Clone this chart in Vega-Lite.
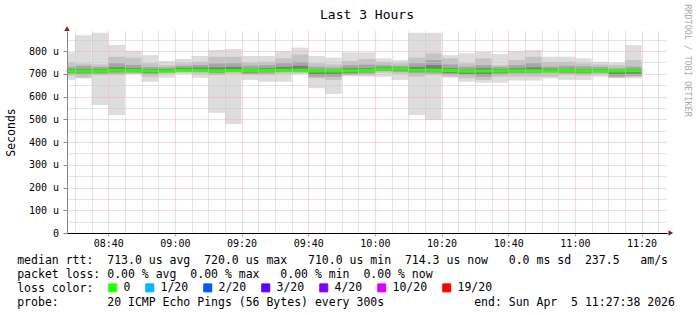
{
  "$schema": "https://vega.github.io/schema/vega-lite/v6.json",
  "width": 600,
  "height": 202,
  "autosize": {"type": "none"},
  "padding": {"left": 67, "top": 31, "right": 30, "bottom": 82},
  "background": "white",
  "title": {"text": "Last 3 Hours", "font": "DejaVu Sans Mono", "fontSize": 13, "fontWeight": "normal", "color": "#000", "anchor": "middle", "frame": "group", "baseline": "alphabetic", "offset": 0, "dy": 28.5},
  "config": {"view": {"stroke": null}, "font": "DejaVu Sans Mono"},
  "datasets": {
    "smoke": [
      {"t": "2026-04-05T08:25:00", "t2": "2026-04-05T08:30:00", "min": 673, "max": 794, "lo2": 692, "hi2": 750, "lo3": 700, "hi3": 730, "lo4": 706, "hi4": 720},
      {"t": "2026-04-05T08:30:00", "t2": "2026-04-05T08:35:00", "min": 680, "max": 870, "lo2": 683, "hi2": 745, "lo3": 697, "hi3": 735, "lo4": 704, "hi4": 720},
      {"t": "2026-04-05T08:35:00", "t2": "2026-04-05T08:40:00", "min": 563, "max": 880, "lo2": 694, "hi2": 741, "lo3": 700, "hi3": 730, "lo4": 706, "hi4": 720},
      {"t": "2026-04-05T08:40:00", "t2": "2026-04-05T08:45:00", "min": 519, "max": 826, "lo2": 694, "hi2": 775, "lo3": 702, "hi3": 746, "lo4": 708, "hi4": 728},
      {"t": "2026-04-05T08:45:00", "t2": "2026-04-05T08:50:00", "min": 699, "max": 801, "lo2": 700, "hi2": 770, "lo3": 704, "hi3": 738, "lo4": 708, "hi4": 724},
      {"t": "2026-04-05T08:50:00", "t2": "2026-04-05T08:55:00", "min": 665, "max": 782, "lo2": 687, "hi2": 746, "lo3": 698, "hi3": 730, "lo4": 704, "hi4": 720},
      {"t": "2026-04-05T08:55:00", "t2": "2026-04-05T09:00:00", "min": 683, "max": 756, "lo2": 700, "hi2": 738, "lo3": 706, "hi3": 728, "lo4": 709, "hi4": 720},
      {"t": "2026-04-05T09:00:00", "t2": "2026-04-05T09:05:00", "min": 699, "max": 765, "lo2": 705, "hi2": 746, "lo3": 711, "hi3": 735, "lo4": 713, "hi4": 726},
      {"t": "2026-04-05T09:05:00", "t2": "2026-04-05T09:10:00", "min": 683, "max": 778, "lo2": 700, "hi2": 753, "lo3": 708, "hi3": 738, "lo4": 712, "hi4": 728},
      {"t": "2026-04-05T09:10:00", "t2": "2026-04-05T09:15:00", "min": 529, "max": 804, "lo2": 694, "hi2": 775, "lo3": 702, "hi3": 745, "lo4": 707, "hi4": 728},
      {"t": "2026-04-05T09:15:00", "t2": "2026-04-05T09:20:00", "min": 479, "max": 809, "lo2": 700, "hi2": 775, "lo3": 709, "hi3": 746, "lo4": 712, "hi4": 730},
      {"t": "2026-04-05T09:20:00", "t2": "2026-04-05T09:25:00", "min": 673, "max": 778, "lo2": 694, "hi2": 750, "lo3": 700, "hi3": 736, "lo4": 706, "hi4": 722},
      {"t": "2026-04-05T09:25:00", "t2": "2026-04-05T09:30:00", "min": 665, "max": 778, "lo2": 694, "hi2": 753, "lo3": 702, "hi3": 738, "lo4": 708, "hi4": 724},
      {"t": "2026-04-05T09:30:00", "t2": "2026-04-05T09:35:00", "min": 665, "max": 800, "lo2": 700, "hi2": 768, "lo3": 709, "hi3": 746, "lo4": 712, "hi4": 730},
      {"t": "2026-04-05T09:35:00", "t2": "2026-04-05T09:40:00", "min": 699, "max": 815, "lo2": 702, "hi2": 785, "lo3": 709, "hi3": 753, "lo4": 713, "hi4": 735},
      {"t": "2026-04-05T09:40:00", "t2": "2026-04-05T09:45:00", "min": 636, "max": 778, "lo2": 680, "hi2": 746, "lo3": 687, "hi3": 731, "lo4": 697, "hi4": 718},
      {"t": "2026-04-05T09:45:00", "t2": "2026-04-05T09:50:00", "min": 611, "max": 771, "lo2": 673, "hi2": 741, "lo3": 687, "hi3": 727, "lo4": 697, "hi4": 716},
      {"t": "2026-04-05T09:50:00", "t2": "2026-04-05T09:55:00", "min": 690, "max": 794, "lo2": 692, "hi2": 756, "lo3": 697, "hi3": 738, "lo4": 704, "hi4": 724},
      {"t": "2026-04-05T09:55:00", "t2": "2026-04-05T10:00:00", "min": 687, "max": 794, "lo2": 694, "hi2": 765, "lo3": 702, "hi3": 740, "lo4": 707, "hi4": 724},
      {"t": "2026-04-05T10:00:00", "t2": "2026-04-05T10:05:00", "min": 687, "max": 768, "lo2": 705, "hi2": 753, "lo3": 712, "hi3": 738, "lo4": 716, "hi4": 730},
      {"t": "2026-04-05T10:05:00", "t2": "2026-04-05T10:10:00", "min": 673, "max": 760, "lo2": 700, "hi2": 746, "lo3": 708, "hi3": 735, "lo4": 714, "hi4": 727},
      {"t": "2026-04-05T10:10:00", "t2": "2026-04-05T10:15:00", "min": 519, "max": 880, "lo2": 687, "hi2": 771, "lo3": 702, "hi3": 746, "lo4": 708, "hi4": 730},
      {"t": "2026-04-05T10:15:00", "t2": "2026-04-05T10:20:00", "min": 497, "max": 880, "lo2": 694, "hi2": 790, "lo3": 702, "hi3": 760, "lo4": 709, "hi4": 738},
      {"t": "2026-04-05T10:20:00", "t2": "2026-04-05T10:25:00", "min": 683, "max": 782, "lo2": 687, "hi2": 768, "lo3": 697, "hi3": 741, "lo4": 704, "hi4": 724},
      {"t": "2026-04-05T10:25:00", "t2": "2026-04-05T10:30:00", "min": 665, "max": 790, "lo2": 680, "hi2": 746, "lo3": 694, "hi3": 731, "lo4": 700, "hi4": 718},
      {"t": "2026-04-05T10:30:00", "t2": "2026-04-05T10:35:00", "min": 661, "max": 797, "lo2": 673, "hi2": 768, "lo3": 687, "hi3": 738, "lo4": 697, "hi4": 724},
      {"t": "2026-04-05T10:35:00", "t2": "2026-04-05T10:40:00", "min": 661, "max": 787, "lo2": 687, "hi2": 738, "lo3": 697, "hi3": 730, "lo4": 704, "hi4": 720},
      {"t": "2026-04-05T10:40:00", "t2": "2026-04-05T10:45:00", "min": 670, "max": 800, "lo2": 687, "hi2": 760, "lo3": 702, "hi3": 738, "lo4": 707, "hi4": 724},
      {"t": "2026-04-05T10:45:00", "t2": "2026-04-05T10:50:00", "min": 670, "max": 804, "lo2": 687, "hi2": 775, "lo3": 702, "hi3": 746, "lo4": 707, "hi4": 728},
      {"t": "2026-04-05T10:50:00", "t2": "2026-04-05T10:55:00", "min": 680, "max": 775, "lo2": 687, "hi2": 753, "lo3": 706, "hi3": 731, "lo4": 709, "hi4": 722},
      {"t": "2026-04-05T10:55:00", "t2": "2026-04-05T11:00:00", "min": 673, "max": 775, "lo2": 694, "hi2": 753, "lo3": 702, "hi3": 735, "lo4": 707, "hi4": 722},
      {"t": "2026-04-05T11:00:00", "t2": "2026-04-05T11:05:00", "min": 673, "max": 768, "lo2": 692, "hi2": 746, "lo3": 700, "hi3": 733, "lo4": 706, "hi4": 720},
      {"t": "2026-04-05T11:05:00", "t2": "2026-04-05T11:10:00", "min": 687, "max": 753, "lo2": 697, "hi2": 741, "lo3": 704, "hi3": 730, "lo4": 708, "hi4": 720},
      {"t": "2026-04-05T11:10:00", "t2": "2026-04-05T11:15:00", "min": 680, "max": 749, "lo2": 683, "hi2": 738, "lo3": 687, "hi3": 724, "lo4": 697, "hi4": 716},
      {"t": "2026-04-05T11:15:00", "t2": "2026-04-05T11:20:00", "min": 680, "max": 826, "lo2": 687, "hi2": 760, "lo3": 690, "hi3": 731, "lo4": 700, "hi4": 720}
    ],
    "median": [
      {"t": "2026-04-05T08:25:00", "med": 712, "loss": "0"},
      {"t": "2026-04-05T08:30:00", "med": 711, "loss": "0"},
      {"t": "2026-04-05T08:35:00", "med": 712, "loss": "0"},
      {"t": "2026-04-05T08:40:00", "med": 716, "loss": "0"},
      {"t": "2026-04-05T08:45:00", "med": 714, "loss": "0"},
      {"t": "2026-04-05T08:50:00", "med": 712, "loss": "0"},
      {"t": "2026-04-05T08:55:00", "med": 712, "loss": "0"},
      {"t": "2026-04-05T09:00:00", "med": 716, "loss": "0"},
      {"t": "2026-04-05T09:05:00", "med": 716, "loss": "0"},
      {"t": "2026-04-05T09:10:00", "med": 713, "loss": "0"},
      {"t": "2026-04-05T09:15:00", "med": 714, "loss": "0"},
      {"t": "2026-04-05T09:20:00", "med": 714, "loss": "0"},
      {"t": "2026-04-05T09:25:00", "med": 714, "loss": "0"},
      {"t": "2026-04-05T09:30:00", "med": 716, "loss": "0"},
      {"t": "2026-04-05T09:35:00", "med": 716, "loss": "0"},
      {"t": "2026-04-05T09:40:00", "med": 712, "loss": "0"},
      {"t": "2026-04-05T09:45:00", "med": 712, "loss": "0"},
      {"t": "2026-04-05T09:50:00", "med": 713, "loss": "0"},
      {"t": "2026-04-05T09:55:00", "med": 714, "loss": "0"},
      {"t": "2026-04-05T10:00:00", "med": 721, "loss": "0"},
      {"t": "2026-04-05T10:05:00", "med": 721, "loss": "0"},
      {"t": "2026-04-05T10:10:00", "med": 716, "loss": "0"},
      {"t": "2026-04-05T10:15:00", "med": 716, "loss": "0"},
      {"t": "2026-04-05T10:20:00", "med": 714, "loss": "0"},
      {"t": "2026-04-05T10:25:00", "med": 711, "loss": "0"},
      {"t": "2026-04-05T10:30:00", "med": 712, "loss": "0"},
      {"t": "2026-04-05T10:35:00", "med": 712, "loss": "0"},
      {"t": "2026-04-05T10:40:00", "med": 713, "loss": "0"},
      {"t": "2026-04-05T10:45:00", "med": 713, "loss": "0"},
      {"t": "2026-04-05T10:50:00", "med": 712, "loss": "0"},
      {"t": "2026-04-05T10:55:00", "med": 714, "loss": "0"},
      {"t": "2026-04-05T11:00:00", "med": 713, "loss": "0"},
      {"t": "2026-04-05T11:05:00", "med": 713, "loss": "0"},
      {"t": "2026-04-05T11:10:00", "med": 712, "loss": "0"},
      {"t": "2026-04-05T11:15:00", "med": 713, "loss": "0"},
      {"t": "2026-04-05T11:20:00", "med": 713, "loss": "0"}
    ]
  },
  "layer": [
    {
      "data": {"name": "smoke"},
      "mark": {"type": "rect", "fill": "#dddddd", "clip": true},
      "encoding": {
        "x": {"field": "t", "type": "temporal",
          "scale": {"domain": [{"year": 2026, "month": 4, "date": 5, "hours": 8, "minutes": 27, "seconds": 38}, {"year": 2026, "month": 4, "date": 5, "hours": 11, "minutes": 27, "seconds": 38}]},
          "axis": {"orient": "bottom", "grid": true, "gridColor": "#c8c8c8", "gridDash": [1, 1], "labels": false, "ticks": false, "domain": false, "title": null, "zindex": 1,
            "values": [
              {"year": 2026, "month": 4, "date": 5, "hours": 8, "minutes": 30},
              {"year": 2026, "month": 4, "date": 5, "hours": 8, "minutes": 35},
              {"year": 2026, "month": 4, "date": 5, "hours": 8, "minutes": 45},
              {"year": 2026, "month": 4, "date": 5, "hours": 8, "minutes": 50},
              {"year": 2026, "month": 4, "date": 5, "hours": 8, "minutes": 55},
              {"year": 2026, "month": 4, "date": 5, "hours": 9, "minutes": 5},
              {"year": 2026, "month": 4, "date": 5, "hours": 9, "minutes": 10},
              {"year": 2026, "month": 4, "date": 5, "hours": 9, "minutes": 15},
              {"year": 2026, "month": 4, "date": 5, "hours": 9, "minutes": 25},
              {"year": 2026, "month": 4, "date": 5, "hours": 9, "minutes": 30},
              {"year": 2026, "month": 4, "date": 5, "hours": 9, "minutes": 35},
              {"year": 2026, "month": 4, "date": 5, "hours": 9, "minutes": 45},
              {"year": 2026, "month": 4, "date": 5, "hours": 9, "minutes": 50},
              {"year": 2026, "month": 4, "date": 5, "hours": 9, "minutes": 55},
              {"year": 2026, "month": 4, "date": 5, "hours": 10, "minutes": 5},
              {"year": 2026, "month": 4, "date": 5, "hours": 10, "minutes": 10},
              {"year": 2026, "month": 4, "date": 5, "hours": 10, "minutes": 15},
              {"year": 2026, "month": 4, "date": 5, "hours": 10, "minutes": 25},
              {"year": 2026, "month": 4, "date": 5, "hours": 10, "minutes": 30},
              {"year": 2026, "month": 4, "date": 5, "hours": 10, "minutes": 35},
              {"year": 2026, "month": 4, "date": 5, "hours": 10, "minutes": 45},
              {"year": 2026, "month": 4, "date": 5, "hours": 10, "minutes": 50},
              {"year": 2026, "month": 4, "date": 5, "hours": 10, "minutes": 55},
              {"year": 2026, "month": 4, "date": 5, "hours": 11, "minutes": 5},
              {"year": 2026, "month": 4, "date": 5, "hours": 11, "minutes": 10},
              {"year": 2026, "month": 4, "date": 5, "hours": 11, "minutes": 15},
              {"year": 2026, "month": 4, "date": 5, "hours": 11, "minutes": 25}
            ]}},
        "x2": {"field": "t2"},
        "y": {"field": "min", "type": "quantitative", "scale": {"domain": [0, 888], "nice": false},
          "axis": {"orient": "left", "grid": true, "gridColor": "#c8c8c8", "gridDash": [1, 1], "labels": false, "ticks": false, "domain": false, "title": null, "zindex": 1,
            "values": [50, 150, 250, 350, 450, 550, 650, 750, 850]}},
        "y2": {"field": "max"}
      }
    },
    {
      "data": {"name": "smoke"},
      "mark": {"type": "rect", "fill": "#c4c4c4", "clip": true},
      "encoding": {
        "x": {"field": "t", "type": "temporal",
          "axis": {"orient": "bottom", "grid": true, "gridColor": "#f2b0b0", "gridDash": [1, 1], "format": "%H:%M", "zindex": 1,
            "labelFont": "DejaVu Sans Mono", "labelFontSize": 10, "labelColor": "#000", "labelPadding": 2.5, "labelBaseline": "top",
            "ticks": true, "tickSize": 3, "tickColor": "#e89090", "domain": true, "domainColor": "#000",
            "values": [
              {"year": 2026, "month": 4, "date": 5, "hours": 8, "minutes": 40},
              {"year": 2026, "month": 4, "date": 5, "hours": 9, "minutes": 0},
              {"year": 2026, "month": 4, "date": 5, "hours": 9, "minutes": 20},
              {"year": 2026, "month": 4, "date": 5, "hours": 9, "minutes": 40},
              {"year": 2026, "month": 4, "date": 5, "hours": 10, "minutes": 0},
              {"year": 2026, "month": 4, "date": 5, "hours": 10, "minutes": 20},
              {"year": 2026, "month": 4, "date": 5, "hours": 10, "minutes": 40},
              {"year": 2026, "month": 4, "date": 5, "hours": 11, "minutes": 0},
              {"year": 2026, "month": 4, "date": 5, "hours": 11, "minutes": 20}
            ],
            "title": [
              "median rtt: \u00a0713.0 us avg \u00a0720.0 us max \u00a0\u00a0710.0 us min \u00a0714.3 us now \u00a0\u00a00.0 ms sd \u00a0237.5 \u00a0\u00a0am/s",
              "packet loss: 0.00 % avg \u00a00.00 % max \u00a0\u00a00.00 % min \u00a00.00 % now",
              "loss color:",
              "probe: \u00a0\u00a0\u00a0\u00a0\u00a0\u00a020 ICMP Echo Pings (56 Bytes) every 300s \u00a0\u00a0\u00a0\u00a0\u00a0\u00a0\u00a0\u00a0\u00a0\u00a0\u00a0\u00a0end: Sun Apr \u00a05 11:27:38 2026"
            ],
            "titleFont": "DejaVu Sans Mono", "titleFontSize": 11.5, "titleFontWeight": "normal", "titleColor": "#000",
            "titleAlign": "left", "titleAnchor": "start", "titleBaseline": "alphabetic", "titleLineHeight": 14, "titleX": -50.3, "titleY": 30}},
        "x2": {"field": "t2"},
        "y": {"field": "lo2", "type": "quantitative", "scale": {"domain": [0, 888], "nice": false},
          "axis": {"orient": "left", "grid": true, "gridColor": "#f2b0b0", "gridDash": [1, 1], "zindex": 1,
            "values": [0, 100, 200, 300, 400, 500, 600, 700, 800],
            "labelExpr": "datum.value == 0 ? '0' : datum.value + ' u'",
            "labelFont": "DejaVu Sans Mono", "labelFontSize": 10, "labelColor": "#000", "labelPadding": 4.4,
            "ticks": true, "tickSize": 4, "tickColor": "#888", "domain": true, "domainColor": "#888",
            "title": "Seconds", "titleFont": "DejaVu Sans Mono", "titleFontSize": 11.5, "titleFontWeight": "normal", "titleColor": "#000",
            "titleAngle": -90, "titleAlign": "center", "titleBaseline": "middle", "titleX": -56, "titleY": 101}},
        "y2": {"field": "hi2"}
      }
    },
    {
      "data": {"name": "smoke"},
      "mark": {"type": "rect", "fill": "#a6a6a6", "clip": true},
      "encoding": {
        "x": {"field": "t", "type": "temporal", "axis": null},
        "x2": {"field": "t2"},
        "y": {"field": "lo3", "type": "quantitative",
          "axis": {"orient": "right", "grid": false, "labels": false, "ticks": false, "domain": false,
            "title": "RRDTOOL / TOBI OETIKER", "titleFont": "DejaVu Sans Mono", "titleFontSize": 8.5, "titleFontWeight": "normal", "titleColor": "#aaaaaa",
            "titleAngle": 90, "titleAlign": "center", "titleBaseline": "middle", "titleX": 20, "titleY": 29}},
        "y2": {"field": "hi3"}
      }
    },
    {
      "data": {"name": "smoke"},
      "mark": {"type": "rect", "fill": "#7c7c7c", "clip": true},
      "encoding": {
        "x": {"field": "t", "type": "temporal", "axis": null},
        "x2": {"field": "t2"},
        "y": {"field": "lo4", "type": "quantitative", "axis": null},
        "y2": {"field": "hi4"}
      }
    },
    {
      "data": {"name": "median"},
      "mark": {"type": "line", "interpolate": "step-after", "strokeWidth": 3, "clip": true},
      "encoding": {
        "x": {"field": "t", "type": "temporal", "axis": null},
        "y": {"field": "med", "type": "quantitative", "axis": null},
        "color": {"field": "loss", "type": "nominal",
          "scale": {"domain": ["0", "1/20", "2/20", "3/20", "4/20", "10/20", "19/20"], "range": ["#26ff00", "#00b8ff", "#0059ff", "#5e00ff", "#7e00ff", "#dd00ff", "#ff0000"]},
          "legend": {"orient": "none", "legendX": 40, "legendY": 251, "direction": "horizontal", "columns": 7, "title": null, "padding": 0,
            "symbolType": "square", "symbolSize": 64, "symbolStrokeWidth": 1, "symbolStrokeColor": "#000", "symbolOpacity": 1,
            "labelFont": "DejaVu Sans Mono", "labelFontSize": 11.5, "labelColor": "#000", "labelOffset": 5, "columnPadding": 12,
            "encode": {"symbols": {"update": {"fill": {"scale": "color", "field": "value"}, "stroke": {"value": "#000"}, "strokeWidth": {"value": 1}}}}}}
      }
    },
    {
      "data": {"values": [{"t": "2026-04-05T11:28:46", "v": 0}]},
      "mark": {"type": "point", "shape": "triangle-right", "filled": true, "size": 30, "color": "#8b1a1a", "opacity": 1, "clip": false},
      "encoding": {
        "x": {"field": "t", "type": "temporal", "axis": null},
        "y": {"field": "v", "type": "quantitative", "axis": null}
      }
    },
    {
      "data": {"values": [{"t": "2026-04-05T08:27:38", "v": 898}]},
      "mark": {"type": "point", "shape": "triangle-up", "filled": true, "size": 30, "color": "#8b1a1a", "opacity": 1, "clip": false},
      "encoding": {
        "x": {"field": "t", "type": "temporal", "axis": null},
        "y": {"field": "v", "type": "quantitative", "axis": null}
      }
    }
  ],
  "resolve": {"axis": {"x": "independent", "y": "independent"}}
}
